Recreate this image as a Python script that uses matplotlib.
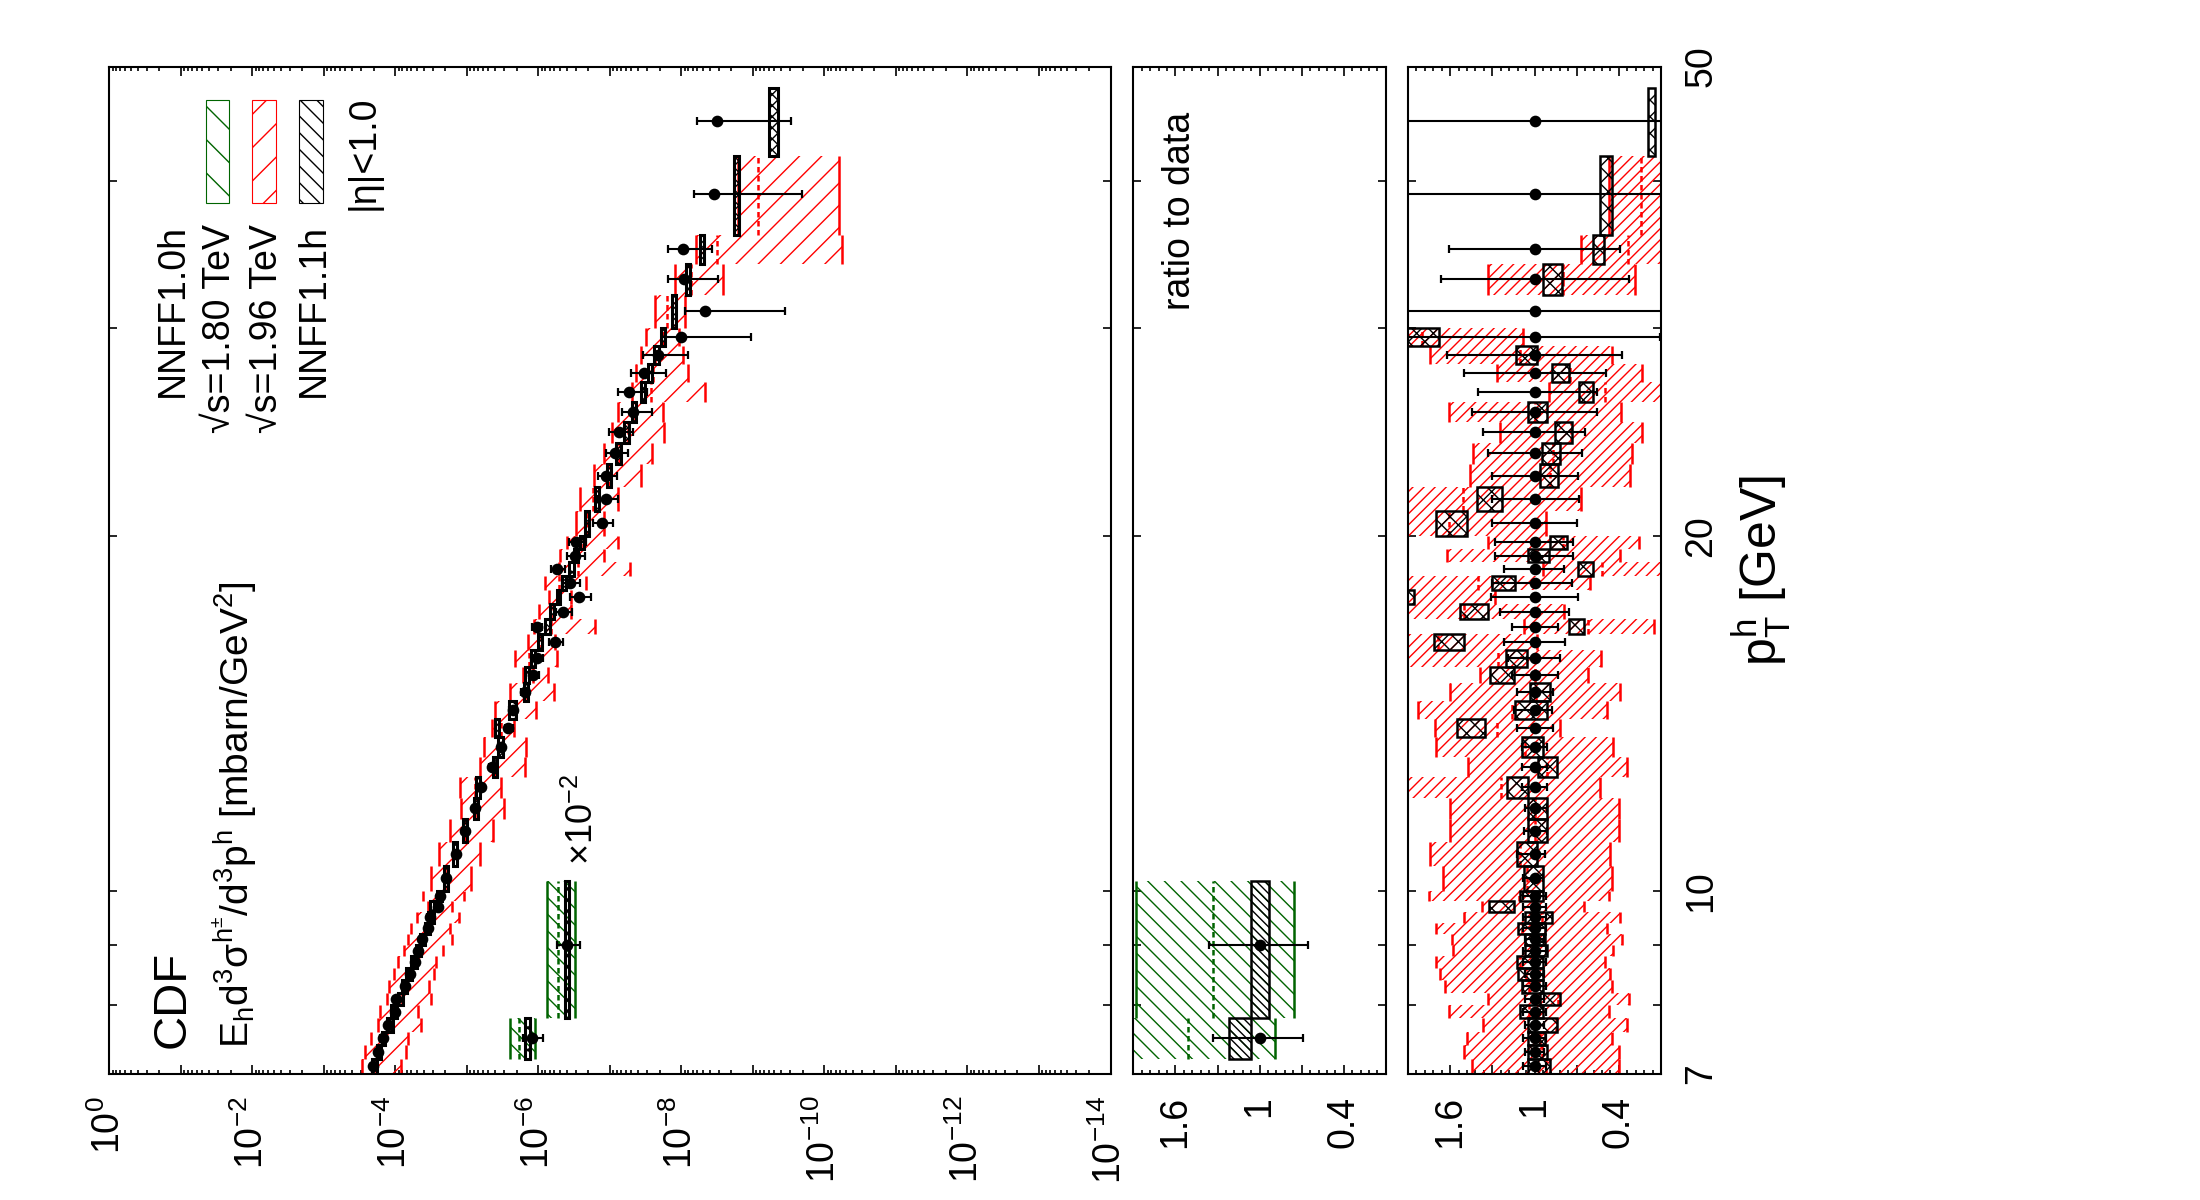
import numpy as np
import matplotlib
matplotlib.use("Agg")
import matplotlib.pyplot as plt
from matplotlib.patches import Rectangle
from matplotlib.ticker import FixedLocator, FixedFormatter, NullLocator, LogLocator

plt.rcParams['font.family'] = ['Liberation Sans', 'DejaVu Sans']
plt.rcParams['mathtext.fontset'] = 'custom'
plt.rcParams['mathtext.rm'] = 'Liberation Sans'
plt.rcParams['mathtext.it'] = 'Liberation Sans'
plt.rcParams['mathtext.default'] = 'regular'
plt.rcParams['hatch.linewidth'] = 0.5

# ---- CDF sqrt(s)=1.96 TeV, |eta|<1.0 : pT bins [GeV] ----
pt_edges = [7.0, 7.2, 7.4, 7.6, 7.8, 8.0, 8.2, 8.4, 8.6, 8.8, 9.0, 9.2, 9.4, 9.6, 9.8, 10.0,
            10.5, 11.0, 11.5, 12.0, 12.5, 13.0, 13.5, 14.0, 14.5, 15.0, 15.5, 16.0, 16.5,
            17.0, 17.5, 18.0, 18.5, 19.0, 19.5, 20.0,
            21, 22, 23, 24, 25, 26, 27, 28, 29, 30, 32, 34, 36, 42, 48]

# measured cross section [mbarn/GeV^2]
sigma = [2.06e-4, 1.76e-4, 1.50e-4, 1.27e-4, 1.03e-4, 9.73e-5, 7.45e-5, 6.34e-5, 5.40e-5,
         4.85e-5, 4.21e-5, 3.52e-5, 3.33e-5, 2.51e-5, 2.36e-5,
         1.95e-5, 1.41e-5, 1.08e-5, 7.59e-6, 6.31e-6, 4.47e-6, 3.39e-6, 2.64e-6, 2.24e-6,
         1.55e-6, 1.18e-6, 1.06e-6, 5.89e-7, 1.06e-6, 4.50e-7, 2.72e-7, 3.63e-7, 5.46e-7,
         3.09e-7, 2.95e-7,
         1.31e-7, 1.14e-7, 1.14e-7, 8.55e-8, 7.45e-8, 4.74e-8, 5.45e-8, 3.37e-8, 2.12e-8, 1.00e-8,
         4.62e-9, 9.29e-9, 9.51e-9, 3.46e-9, 3.18e-9]

# data uncertainty, as ratio to the central value
data_hi = [1.08, 1.07, 1.08, 1.07, 1.08, 1.07, 1.08, 1.07, 1.08, 1.08, 1.07, 1.08, 1.08, 1.08, 1.08,
           1.083, 1.126, 1.078, 1.066, 1.09, 1.09, 1.09, 1.126, 1.149, 1.126, 1.161, 1.185, 1.216,
           1.161, 1.244, 1.31, 1.303, 1.216, 1.28, 1.28,
           1.303, 1.303, 1.303, 1.334, 1.363, 1.446, 1.405, 1.505, 1.624, 1.90,
           1.95, 1.664, 1.607, 1.95, 1.92]
data_lo = [0.92, 0.93, 0.92, 0.93, 0.92, 0.93, 0.92, 0.93, 0.92, 0.92, 0.93, 0.92, 0.92, 0.92, 0.92,
           0.936, 0.924, 0.912, 0.912, 0.912, 0.912, 0.912, 0.87, 0.877, 0.87, 0.836, 0.822, 0.782,
           0.836, 0.751, 0.687, 0.734, 0.787, 0.723, 0.723,
           0.699, 0.682, 0.692, 0.661, 0.64, 0.552, 0.557, 0.493, 0.379, 0.105,
           0.076, 0.331, 0.391, 0.059, 0.091]

# NNFF1.0h band, ratio to data
nn10_hi = [1.446, 1.50, 1.48, 1.363, 1.61, 1.334, 1.635, 1.67, 1.70, 1.58, 1.588, 1.70, 1.505, 1.375, 1.75,
           1.654, 1.747, 1.60, 1.60, 1.95, 1.47, 1.70, 1.71, 1.83, 1.60, 1.386, 2.0, 2.4, 1.078,
           2.2, 2.6, 2.2, 0.936, 1.62, 1.334,
           2.3, 2.31, 1.462, 1.434, 1.244, 1.61, 0.90, 1.268, 1.74, 3.15,
           5.1, 1.332, 0.668, 0.467, np.nan]
nn10_lo = [0.40, 0.40, 0.45, 0.343, 0.467, 0.33, 0.45, 0.46, 0.50, 0.44, 0.379, 0.486, 0.39, 0.65, 0.47,
           0.45, 0.462, 0.40, 0.40, 0.533, 0.34, 0.44, 0.822, 0.486, 0.39, 0.616, 0.526, 0.983, 0.153,
           0.79, 1.28, 0.604, 0.097, 0.39, 0.26,
           0.92, 0.67, 0.32, 0.303, 0.237, 0.386, 0.087, 0.237, 0.45, 1.08,
           1.95, 0.284, 0.0059, 0.018, np.nan]
nn10_mid = [0.92, 0.95, 0.96, 0.85, 1.04, 0.83, 1.04, 1.06, 1.10, 1.01, 0.98, 1.09, 0.95, 1.01, 1.11,
            1.05, 1.10, 1.00, 1.00, 1.24, 0.91, 1.07, 1.27, 1.16, 0.99, 1.00, 1.26, 1.69, 0.62,
            1.50, 1.94, 1.40, 0.52, 1.00, 0.80,
            1.61, 1.51, 0.89, 0.87, 0.74, 1.00, 0.497, 0.75, 1.10, 1.80,
            3.5, 0.80, 0.336, 0.244, np.nan]

# NNFF1.1h band, ratio to data
nn11_hi = [1.043, 1.043, 1.043, 1.043, 1.102, 0.96, 1.09, 1.114, 1.126, 1.066, 1.066, 1.114, 1.066, 1.327, 1.10,
           1.078, 1.126, 1.043, 1.043, 1.197, 0.972, 1.09, 1.548, 1.137, 1.031, 1.315, 1.20, 1.718, 0.758,
           1.529, 2.0, 1.303, 0.687, 1.043, 0.889,
           1.70, 1.41, 0.964, 0.948, 0.853, 1.047, 0.682, 0.877, 1.133, 1.95,
           2.98, 0.936, 0.585, 0.533, 0.189]
nn11_lo = [0.889, 0.912, 0.924, 0.841, 0.936, 0.817, 0.936, 0.936, 0.936, 0.912, 0.924, 0.924, 0.877, 1.149, 0.936,
           0.936, 0.983, 0.912, 0.912, 1.043, 0.841, 0.936, 1.351, 0.912, 0.889, 1.149, 1.05, 1.50, 0.651,
           1.334, 1.86, 1.137, 0.587, 0.90, 0.77,
           1.48, 1.232, 0.836, 0.822, 0.734, 0.912, 0.585, 0.758, 0.983, 1.68,
           2.54, 0.806, 0.504, 0.45, 0.142]

# ---- CDF sqrt(s)=1.80 TeV (shown x 10^-2 in the top panel) ----
pt_edges_180 = [7.2, 7.8, 10.2]
sigma_180 = [1.245e-4, 4.04e-5]
data180_hi = [1.33, 1.36]
data180_lo = [0.69, 0.655]
nn10_180_hi = [2.0, 1.88]
nn10_180_lo = [0.89, 0.755]
nn10_180_mid = [1.51, 1.33]
nn11_180_hi = [1.22, 1.06]
nn11_180_lo = [1.06, 0.93]
scale_180 = 1e-2

pt_ticks = [7, 8, 9, 10, 20, 30, 40, 50]
pt_ticklabels = ['7', '', '', '10', '20', '', '', '50']
sig_ticks = [10.0 ** (-k) for k in range(0, 15)]
sig_ticklabels = ['10$^{%d}$' % (-k) if k % 2 == 0 else '' for k in range(0, 15)]
rat_ticks = [0.1, 0.4, 0.7, 1.0, 1.3, 1.6, 1.9]
rat_ticklabels = ['', '0.4', '', '1', '', '1.6', '']

RED = '#ff0000'
GREEN = '#006400'

W, H = 2200.0, 1200.0


def fbox(x0, x1, y0, y1):
    return [x0 / W, 1 - y1 / H, (x1 - x0) / W, (y1 - y0) / H]


def draw_band(ax, edges, vlo, vhi, vmid, color, hatch, lw=0.9, z=2):
    y0 = np.asarray(edges[:-1], float)
    y1 = np.asarray(edges[1:], float)
    vlo, vhi, vmid = (np.asarray(v, float) for v in (vlo, vhi, vmid))
    ok = ~np.isnan(vlo)
    for a, b, l, h in zip(y0[ok], y1[ok], vlo[ok], vhi[ok]):
        ax.add_patch(Rectangle((l, a), h - l, b - a, facecolor='none', edgecolor=color,
                               linewidth=0, hatch=hatch, zorder=z))
    ax.vlines(vlo[ok], y0[ok], y1[ok], colors=color, linewidth=lw, zorder=z)
    ax.vlines(vhi[ok], y0[ok], y1[ok], colors=color, linewidth=lw, zorder=z)
    ax.vlines(vmid[ok], y0[ok], y1[ok], colors=color, linewidth=lw, zorder=z,
              linestyles=(0, (2.2, 1.4)))


def draw_boxes(ax, edges, vlo, vhi, hatch, lw=0.8, z=3):
    y0 = np.asarray(edges[:-1], float)
    y1 = np.asarray(edges[1:], float)
    for a, b, l, h in zip(y0, y1, vlo, vhi):
        ax.add_patch(Rectangle((l, a), h - l, b - a, facecolor='none', edgecolor='black',
                               linewidth=lw, hatch=hatch, zorder=z))


def draw_data(ax, edges, x, hi, lo):
    e = np.asarray(edges, float)
    ctr = 0.5 * (e[:-1] + e[1:])
    x = np.asarray(x, float)
    hi = np.asarray(hi, float)
    lo = np.asarray(lo, float)
    ax.errorbar(x, ctr, xerr=[x - x * lo, x * hi - x], fmt='o', color='black', ms=3.2,
                elinewidth=0.75, capsize=1.4, capthick=0.8, zorder=5)


fig = plt.figure(figsize=(11, 6), dpi=200)
ax_m = fig.add_axes(fbox(109.4, 1110.5, 66.6, 1073.7))
ax_a = fig.add_axes(fbox(1133.3, 1385.9, 66.6, 1073.7))
ax_b = fig.add_axes(fbox(1408.0, 1661.0, 66.6, 1073.7))

for ax in (ax_m, ax_a, ax_b):
    ax.set_yscale('log')
    ax.set_ylim(7, 50)
    ax.yaxis.set_major_locator(FixedLocator(pt_ticks))
    ax.yaxis.set_major_formatter(FixedFormatter(pt_ticklabels))
    ax.yaxis.set_minor_locator(NullLocator())
    ax.tick_params(axis='y', which='major', direction='in', length=2.9, width=0.6,
                   left=True, right=True, labelleft=False, labelright=False)
    ax.tick_params(axis='x', which='both', direction='in', top=True, bottom=True,
                   labelrotation=90, labelsize=13.5, pad=8, width=0.6)
    ax.tick_params(axis='x', which='major', length=3.2)
    ax.tick_params(axis='x', which='minor', length=1.5)
    for sp in ax.spines.values():
        sp.set_linewidth(0.75)

ax_b.tick_params(axis='y', labelright=True, labelsize=13.5, pad=8, labelrotation=90)
for lab in ax_b.yaxis.get_ticklabels():
    lab.set_va('center')
    lab.set_ha('left')

# main panel: cross sections
ax_m.set_xscale('log')
ax_m.set_xlim(1.0, 1e-14)
ax_m.xaxis.set_major_locator(FixedLocator(sig_ticks))
ax_m.xaxis.set_major_formatter(FixedFormatter(sig_ticklabels))
ax_m.xaxis.set_minor_locator(LogLocator(base=10, subs=range(2, 10), numticks=200))

sig = np.asarray(sigma)
draw_band(ax_m, pt_edges, sig * np.asarray(nn10_lo), sig * np.asarray(nn10_hi),
          sig * np.asarray(nn10_mid), RED, '///')
draw_boxes(ax_m, pt_edges, sig * np.asarray(nn11_lo), sig * np.asarray(nn11_hi), 'xxxxxx', lw=1.1)
draw_data(ax_m, pt_edges, sig, data_hi, data_lo)

s180 = np.asarray(sigma_180) * scale_180
draw_band(ax_m, pt_edges_180, s180 * np.asarray(nn10_180_lo), s180 * np.asarray(nn10_180_hi),
          s180 * np.asarray(nn10_180_mid), GREEN, '\\\\\\\\')
draw_boxes(ax_m, pt_edges_180, s180 * np.asarray(nn11_180_lo), s180 * np.asarray(nn11_180_hi),
           'xxxxxx', lw=1.1)
draw_data(ax_m, pt_edges_180, s180, data180_hi, data180_lo)

# ratio panels
for ax in (ax_a, ax_b):
    ax.set_xlim(1.9, 0.1)
    ax.xaxis.set_major_locator(FixedLocator(rat_ticks))
    ax.xaxis.set_major_formatter(FixedFormatter(rat_ticklabels))
    ax.xaxis.set_minor_locator(FixedLocator(list(np.arange(0.1, 1.9001, 0.06))))

draw_band(ax_a, pt_edges_180, nn10_180_lo, nn10_180_hi, nn10_180_mid, GREEN, '\\\\\\\\')
draw_boxes(ax_a, pt_edges_180, nn11_180_lo, nn11_180_hi, '\\\\\\\\\\\\\\\\', lw=0.9)
draw_data(ax_a, pt_edges_180, np.ones(2), data180_hi, data180_lo)

draw_band(ax_b, pt_edges, nn10_lo, nn10_hi, nn10_mid, RED, '//////')
draw_boxes(ax_b, pt_edges, nn11_lo, nn11_hi, 'xxxx', lw=0.9)
draw_data(ax_b, pt_edges, np.ones(len(sigma)), data_hi, data_lo)


# texts (figure rotated by 90 degrees)
def vtext(x, y, s, size, ha='left'):
    fig.text(x / W, 1 - y / H, s, rotation=90, rotation_mode='anchor', ha=ha,
             va='baseline', fontsize=size)


vtext(185, 1048, 'CDF', 17)
vtext(249, 1048, 'E$_{h}$d$^{3}$σ$^{h^{±}}$/d$^{3}$p$^{h}$ [mbarn/GeV$^{2}$]', 14)
vtext(183.3, 224, 'NNFF1.0h', 13.5, ha='right')
vtext(230.0, 224, '√s=1.80 TeV', 13.5, ha='right')
vtext(277.0, 224, '√s=1.96 TeV', 13.5, ha='right')
vtext(323.5, 224, 'NNFF1.1h', 13.5, ha='right')
vtext(374.0, 210, '|η|<1.0', 13.5)
vtext(593.0, 865, '×10$^{-2}$', 13)
vtext(1190.0, 310, 'ratio to data', 13.5)
vtext(1778.0, 570, 'p$_{T}^{h}$ [GeV]', 18, ha='center')

# legend samples
for x0, col, hat in ((205.7, GREEN, '\\\\'), (252.3, RED, '//'), (299.0, 'black', '\\\\\\\\')):
    fig.add_artist(Rectangle((x0 / W, 1 - 202.7 / H), 23.6 / W, 102.7 / H,
                             transform=fig.transFigure, facecolor='none',
                             edgecolor=col, linewidth=0.4, hatch=hat))

fig.savefig('out.png', dpi=200)
